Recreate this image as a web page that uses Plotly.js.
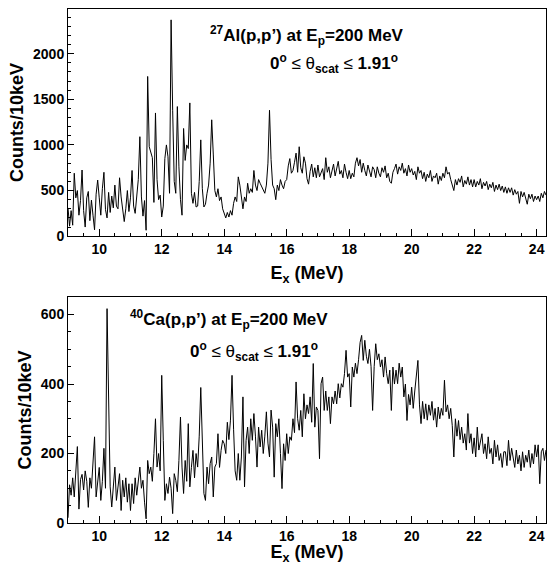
<!DOCTYPE html>
<html><head><meta charset="utf-8">
<script src="https://cdn.plot.ly/plotly-3.0.1.min.js"></script>
<style>html,body{margin:0;padding:0;background:#fff}</style>
</head><body><div id="chart" style="width:548px;height:565px"></div>
<script>
// Excitation-energy binning used for the sampled spectra (MeV)
const eStart = 9.0;
const eStep = 0.05;

// 27Al(p,p') counts per 10 keV, sampled every 50 keV from 9.00 to 24.30 MeV
const al27Counts = [
  310,110,280,120,690,420,500,230,390,725,280,100,420,490,170,395,230,70,460,615,
  420,230,520,700,290,200,480,260,440,310,560,330,300,640,430,270,160,300,500,270,
  420,720,330,250,470,620,1090,430,220,390,65,1750,980,920,860,370,1350,620,400,450,
  210,330,850,1000,870,470,2370,1380,600,470,1420,760,400,230,1180,830,1000,960,1460,470,
  360,480,320,330,600,1055,520,320,350,470,560,800,1275,900,500,430,520,390,430,300,
  250,200,260,210,280,230,360,430,380,650,560,420,300,430,380,580,470,520,480,720,
  560,500,620,580,540,520,470,560,800,1380,840,560,520,400,560,500,620,560,520,600,
  620,770,850,690,720,810,910,700,980,750,690,870,800,630,570,710,790,650,750,640,
  780,650,700,740,620,860,700,760,640,700,790,660,740,820,680,720,640,790,700,630,
  720,630,690,650,800,860,770,840,700,800,720,660,780,700,650,760,730,640,760,690,
  650,750,700,770,640,690,600,580,700,740,790,680,760,720,800,690,740,660,780,700,
  740,670,710,620,760,690,720,630,700,600,680,640,720,600,660,640,690,570,660,610,
  690,640,760,680,700,620,560,500,620,560,630,590,660,540,610,570,650,560,620,540,
  620,540,600,560,630,520,590,550,600,510,570,530,590,490,560,510,570,500,550,480,
  540,470,530,480,530,450,510,460,490,360,490,430,480,420,350,460,410,460,380,440,
  400,440,380,470,420,490,450
];

// 40Ca(p,p') counts per 10 keV, same sampling
const ca40Counts = [
  15,110,80,130,75,150,220,40,125,140,95,150,120,45,130,100,170,248,75,130,
  160,65,120,215,100,617,300,104,46,120,161,65,110,142,36,123,75,130,60,113,
  36,113,56,130,80,132,161,100,123,60,12,180,142,161,120,200,300,161,200,150,
  425,238,65,113,85,132,100,27,142,123,90,180,305,161,85,180,120,286,104,160,
  209,130,200,161,250,390,200,85,65,161,113,171,190,75,161,171,257,160,209,238,
  228,200,290,240,296,425,270,150,123,200,123,190,363,104,238,276,200,300,238,315,
  250,161,276,219,267,200,250,320,230,190,325,276,132,286,248,300,200,99,228,180,
  257,200,248,238,300,260,406,300,267,324,248,372,300,340,315,363,290,459,276,334,
  324,185,401,420,324,380,324,363,286,363,343,380,343,401,360,401,391,430,497,420,
  430,334,449,420,460,430,470,520,540,468,526,480,459,500,450,324,450,516,470,487,
  449,470,420,478,430,401,440,324,449,400,440,401,460,420,449,363,400,295,370,340,
  391,330,380,420,468,340,286,350,300,343,296,340,310,350,296,330,276,334,300,330,
  310,411,320,340,300,330,280,190,300,250,295,240,276,230,257,210,315,230,257,200,
  245,190,276,210,230,257,200,228,185,248,200,215,170,238,190,225,180,200,160,205,
  205,165,238,180,215,190,160,210,170,195,150,205,160,195,175,210,160,200,170,225,
  190,225,113,205,215,180,210
];

const panelLabels = [
  "<sup>27</sup>Al(p,p’) at E<sub>p</sub>=200 MeV",
  "<sup>40</sup>Ca(p,p’) at E<sub>p</sub>=200 MeV"
];
const angleLabel = "0<sup>o</sup> <span style='font-weight:normal'>≤ θ</span><sub>scat</sub> <span style='font-weight:normal'>≤</span> 1.91<sup>o</sup>";
const xTitle = "E<sub>x</sub> (MeV)";
const yTitle = "Counts/10keV";

const energies = al27Counts.map((_, i) => +(eStart + i * eStep).toFixed(3));

const FONT = "Liberation Sans, Arial, Helvetica, sans-serif";
const lineStyle = {color: "black", width: 1};

const traces = [
  {x: energies, y: al27Counts, type: "scatter", mode: "lines", line: lineStyle, xaxis: "x", yaxis: "y", hoverinfo: "x+y"},
  {x: energies, y: ca40Counts, type: "scatter", mode: "lines", line: lineStyle, xaxis: "x2", yaxis: "y2", hoverinfo: "x+y"}
];

function xAxis(anchor, standoff) {
  return {
    anchor: anchor, domain: [0, 1], range: [9, 24.3],
    showline: true, mirror: true, linecolor: "black", linewidth: 1,
    showgrid: false, zeroline: false,
    ticks: "inside", ticklen: 7, tickcolor: "black", tick0: 0, dtick: 2,
    minor: {ticks: "inside", dtick: 0.5, ticklen: 3.5, tickcolor: "black", showgrid: false},
    tickfont: {family: FONT, size: 14, color: "black", weight: "bold"},
    title: {text: xTitle, font: {family: FONT, size: 18, color: "black", weight: "bold"}, standoff: standoff}
  };
}
function yAxis(anchor, domain, range, dtick, minorDtick) {
  return {
    anchor: anchor, domain: domain, range: range,
    showline: true, mirror: true, linecolor: "black", linewidth: 1,
    showgrid: false, zeroline: false,
    ticks: "inside", ticklen: 6, tickcolor: "black", tick0: 0, dtick: dtick,
    minor: {ticks: "inside", dtick: minorDtick, ticklen: 3, tickcolor: "black", showgrid: false},
    tickfont: {family: FONT, size: 14, color: "black", weight: "bold"},
    title: {text: yTitle, font: {family: FONT, size: 18, color: "black", weight: "bold"}, standoff: 4}
  };
}

const annFont = {family: FONT, size: 17, color: "black", weight: "bold"};
const layout = {
  width: 548, height: 565,
  margin: {l: 68, r: 2, t: 9, b: 42},
  paper_bgcolor: "white", plot_bgcolor: "white",
  showlegend: false,
  xaxis: xAxis("y", 10),
  yaxis: yAxis("x", [0.558, 1], [0, 2489], 500, 100),
  xaxis2: xAxis("y2", 4),
  yaxis2: yAxis("x2", [0, 0.44], [0, 651], 200, 50),
  annotations: [
    {text: panelLabels[0], xref: "paper", yref: "paper", x: 0.293, y: 0.9475, xanchor: "left", yanchor: "middle", showarrow: false, font: annFont},
    {text: angleLabel, xref: "paper", yref: "paper", x: 0.418, y: 0.893, xanchor: "left", yanchor: "middle", showarrow: false, font: annFont},
    {text: panelLabels[1], xref: "paper", yref: "paper", x: 0.1255, y: 0.395, xanchor: "left", yanchor: "middle", showarrow: false, font: annFont},
    {text: angleLabel, xref: "paper", yref: "paper", x: 0.251, y: 0.3346, xanchor: "left", yanchor: "middle", showarrow: false, font: annFont}
  ]
};

Plotly.newPlot("chart", traces, layout, {displayModeBar: false, staticPlot: true});
</script>
</body></html>
